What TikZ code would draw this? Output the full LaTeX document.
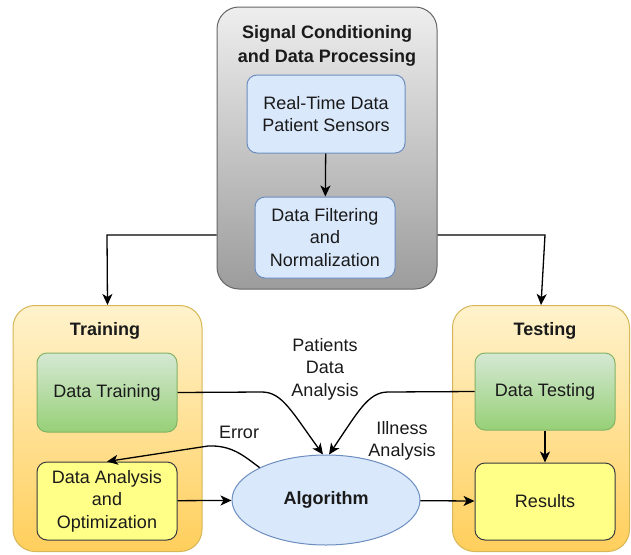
\documentclass[tikz,border=0pt]{standalone}
\usepackage{fontspec}
\setmainfont{Liberation Sans}
\usetikzlibrary{arrows.meta,shapes.geometric}

\definecolor{txt}{HTML}{1A1A1A}
\definecolor{grayline}{HTML}{666666}
\definecolor{graytop}{HTML}{EEEEEE}
\definecolor{graybot}{HTML}{9C9C9C}
\definecolor{bluefill}{HTML}{DAE8FC}
\definecolor{blueline}{HTML}{6C8EBF}
\definecolor{orgtop}{HTML}{FFF2CC}
\definecolor{orgbot}{HTML}{FFCF5C}
\definecolor{orgline}{HTML}{D6B656}
\definecolor{grntop}{HTML}{D5E8D4}
\definecolor{grnbot}{HTML}{97D077}
\definecolor{grnline}{HTML}{82B366}
\definecolor{yelfill}{HTML}{FFFF88}
\definecolor{yelline}{HTML}{36393D}

\tikzset{
  every node/.style={font=\fontsize{18}{22.5}\selectfont, text=txt, align=center, inner sep=0pt},
  group/.style={draw=#1, line width=1pt, rounded corners=22pt},
  graygroup/.style={group=grayline, top color=graytop, bottom color=graybot},
  orggroup/.style={group=orgline, top color=orgtop, bottom color=orgbot},
  bluebox/.style={draw=blueline, fill=bluefill, line width=1pt, rounded corners=10pt},
  greenbox/.style={draw=grnline, line width=1pt, rounded corners=10pt, top color=grntop, bottom color=grnbot},
  yellowbox/.style={draw=yelline, fill=yelfill, line width=1pt, rounded corners=10pt},
  grouptitle/.style={font=\bfseries\fontsize{18}{23.5}\selectfont},
  link/.style={draw=black, line width=1.3pt, -{Stealth[length=11pt,width=10pt,inset=3pt]}},
  caption/.style={}
}

\begin{document}
\begin{tikzpicture}[x=1pt,y=-1pt]
  \useasboundingbox (0,0) rectangle (631,554);

  % group containers
  \node[graygroup, minimum width=220pt, minimum height=282pt] (sig) at (327,148) {};
  \node[orggroup, minimum width=189pt, minimum height=246pt] (train) at (107.5,428.5) {};
  \node[orggroup, minimum width=177pt, minimum height=246pt] (test) at (541,428.5) {};

  % group titles
  \node[grouptitle] (sigtitle) at (327,46) {Signal Conditioning\\and Data Processing};
  \node[grouptitle] (traintitle) at (105,331) {Training};
  \node[grouptitle] (testtitle) at (545,331) {Testing};

  % processing steps
  \node[bluebox, minimum width=158pt, minimum height=78pt] (rt) at (326,114) {Real-Time Data\\Patient Sensors};
  \node[bluebox, minimum width=140pt, minimum height=81pt] (df) at (325,237.5) {Data Filtering\\and\\Normalization};
  \node[greenbox, minimum width=140pt, minimum height=79pt] (dtr) at (107,392.5) {Data Training};
  \node[yellowbox, minimum width=140pt, minimum height=78pt] (dao) at (107,501) {Data Analysis\\and\\Optimization};
  \node[greenbox, minimum width=140pt, minimum height=77pt] (dte) at (545,391.5) {Data Testing};
  \node[yellowbox, minimum width=140pt, minimum height=77pt] (res) at (545,501.5) {Results};
  \node[ellipse, draw=blueline, fill=bluefill, line width=1pt, minimum width=188pt, minimum height=90pt,
        font=\bfseries\fontsize{18}{22.5}\selectfont] (alg) at (326,500) {Algorithm};

  % edge labels
  \node[caption] (lbpda) at (325,369) {Patients\\Data\\Analysis};
  \node[caption] (lberr) at (239,432) {Error};
  \node[caption] (lbill) at (402,441) {Illness\\Analysis};

  % connectors
  \draw[link] (rt) -- (df);
  \draw[link] (sig.west |- 0,235) -- (107,235) -- (train.north);
  \draw[link] (sig.east |- 0,235) -- (545,235) -- (test.north);
  \draw[link] (dtr.east) -- (262,392) .. controls (282,392) and (292,412) .. ([xshift=-3pt]alg.north);
  \draw[link] (dte.west) -- (388,392) .. controls (368,392) and (358,412) .. ([xshift=3pt]alg.north);
  \draw[link] (dte) -- (res);
  \draw[link] (alg.154) .. controls (244,456) and (232,445) .. (208,446) -- (dao.north);
  \draw[link] (dao) -- (alg);
  \draw[link] (alg) -- (res);
\end{tikzpicture}
\end{document}
